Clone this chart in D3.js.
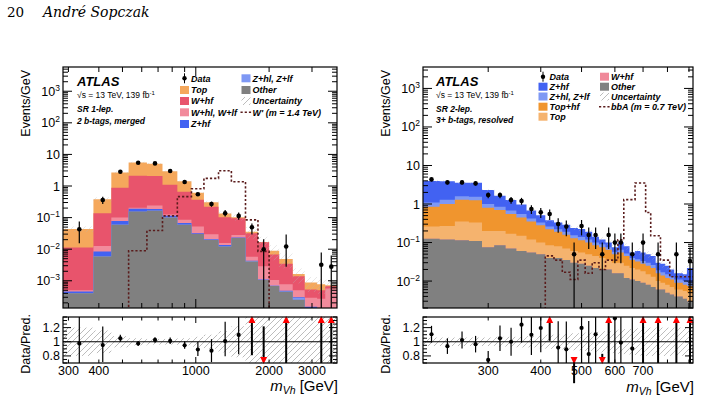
<!DOCTYPE html>
<html><head><meta charset="utf-8">
<script src="https://cdn.jsdelivr.net/npm/d3@7"></script>
<style>
body{margin:0;background:#fff}
svg text{font-family:"Liberation Sans",Arial,Helvetica,sans-serif;fill:#000}
</style></head>
<body><svg id="c" width="704" height="401"></svg>
<script>
// ---------------- LEFT: SR 1-lep, 2 b-tags, merged ----------------
const edgesL=[285,380,450,530,630,730,840,960,1080,1240,1400,1600,1800,2000,2200,2500,2800,3150,3400,3800];
const otherL=[0.0004,0.0059,0.059,0.155,0.166,0.1,0.059,0.030,0.0197,0.0121,0.0225,0.0041,0.00105,0.00068,0.00045,0.00025,0.00012,0.0001,0.0001];
const zhlL=[0.00001,0.0001,0.001,0.002,0.002,0.002,0.001,0.0005,0.0003,0.0002,0.0003,0.0001,0.00002,0.00001,0.00002,0.00004,0.00002,0.00001,0.00001];
const zhfL=[0.00005,0.0025,0.0185,0.033,0.02,0.013,0.007,0.0015,0.0008,0.0012,0.0007,0.0001,0.00003,0.00001,0.00001,0.00001,0.00001,0.00001,0.00001];
const whlL=[0.00004,0.0042,0.0215,0.015,0.052,0.01,0.018,0.02,0.009,0.0022,0.0045,0.0015,0.0018,0.00035,0.0003,0.0002,0.00014,0.00015,0.00045];
const whfL=[0.0108,0.124,0.78,1.9,1.83,0.98,0.575,0.318,0.192,0.087,0.067,0.026,0.0136,0.0058,0.00265,0.0009,0.00024,0.00023,0.0001];
const topL=[0.0325,0.242,1.82,3.48,3.0,1.84,0.75,0.243,0.087,0.033,0.008,0.004,0.0005,0.0021,0.0015,0.00025,0.00035,0.00027,0.00005];
const dataL=[0.0428,0.361,2.83,5.45,5.2,2.98,1.34,0.546,0.27,0.137,0.113,0.0495,0.010,0,0.0121,0,0,0.0032,0.0028];
const dataLoL=[0.0155,0.27,2.7,5.25,5.0,2.85,1.27,0.49,0.22,0.108,0.085,0.029,0,0,0.0028,0,0,0,0];
const dataHiL=[0.0748,0.46,2.97,5.65,5.4,3.12,1.42,0.61,0.32,0.174,0.145,0.065,0.0207,0,0.029,0,0,0.0078,0.0063];
const sigL=[0,0,0,0.0089,0.039,0.113,0.46,0.82,1.75,3.05,1.37,0.085,0.0085,0,0,0,0,0,0];
const uncL=[0.2,0.16,0.08,0.05,0.04,0.04,0.05,0.07,0.1,0.15,0.22,0.4,0.45,0.5,0.5,0.5,0.5,0.5,0.5];
const xTickLabelsL=[300,400,1000,2000,3000];

// ---------------- RIGHT: SR 2-lep, 3+ b-tags, resolved ----------------
const edgesR=[210,230,250,270,290,310,330,350,370,390,410,430,450,470,490,510,530,550,570,590,610,630,650,670,690,710,730,750,770,790,810,830,850,870,890,920];
const otherR=[0.125,0.12,0.115,0.11,0.075,0.085,0.07,0.06,0.055,0.05,0.04,0.04,0.035,0.03,0.028,0.025,0.022,0.02,0.02,0.016,0.016,0.012,0.011,0.01,0.009,0.008,0.007,0.006,0.006,0.005,0.0045,0.004,0.004,0.0035,0.003];
const whfR=new Array(35).fill(0);
const topR=[0.135,0.15,0.235,0.22,0.125,0.115,0.1,0.09,0.065,0.05,0.045,0.04,0.035,0.03,0.027,0.025,0.023,0.02,0.015,0.014,0.014,0.013,0.011,0.01,0.009,0.007,0.006,0.004,0.003,0.003,0.0025,0.002,0.002,0.002,0.002];
const tophfR=[0.59,0.73,0.95,0.92,0.6,0.5,0.38,0.3,0.23,0.18,0.135,0.11,0.09,0.07,0.06,0.05,0.04,0.035,0.03,0.02,0.025,0.02,0.013,0.012,0.01,0.01,0.009,0.006,0.005,0.004,0.004,0.003,0.003,0.0025,0.0025];
const zhlR=[0.25,0.3,0.3,0.3,0.2,0.15,0.13,0.1,0.07,0.05,0.04,0.03,0.03,0.025,0.025,0.02,0.015,0.015,0.01,0.008,0.01,0.007,0.005,0.005,0.005,0.005,0.004,0.003,0.003,0.003,0.002,0.002,0.002,0.002,0.002];
const zhfR=[2.84,2.58,1.95,2.0,1.3,0.78,0.59,0.416,0.256,0.179,0.12,0.11,0.1,0.085,0.085,0.07,0.042,0.03,0.025,0.017,0.036,0.028,0.015,0.023,0.022,0.02,0.019,0.011,0.011,0.01,0.007,0.005,0.005,0.005,0.0125];
const dataR=[4.36,3.64,3.64,3.43,1.71,1.71,1.27,1.2,0.742,0.608,0.551,0.303,0.259,0.0497,0.269,0.157,0.157,0.0497,0.157,0.0998,0.0998,0,0.0497,0,0.0998,0,0,0.0497,0,0,0,0.0497,0,0,0.0333];
const sigR=[0,0,0,0,0,0,0,0,0,0,0.045,0.035,0.017,0.011,0.035,0.016,0.03,0.02,0.035,0.035,0.117,1.3,1.3,3.5,3.5,0.6,0.15,0.15,0.035,0.035,0.013,0.013,0.013,0.013,0.013];
const uncR=[0.06,0.06,0.06,0.06,0.06,0.07,0.07,0.08,0.08,0.09,0.1,0.1,0.11,0.12,0.12,0.13,0.14,0.15,0.15,0.16,0.17,0.18,0.18,0.19,0.2,0.2,0.2,0.2,0.2,0.2,0.2,0.2,0.2,0.2,0.2];
const xTickLabelsR=[300,400,500,600,700];

const C={top:"#f5a85c",whf:"#e8546c",whl:"#f28b9c",zhf:"#4262f2",zhl:"#7e98f4",other:"#808080",
         tophf:"#f0952e",top2:"#f5b36e",whf2:"#f0899a",sig:"#5a1c1c"};

const svg=d3.select("#c");
const defs=svg.append("defs");
const pat=defs.append("pattern").attr("id","hatch").attr("patternUnits","userSpaceOnUse").attr("width",6).attr("height",6);
pat.append("path").attr("d","M-1,1 l2,-2 M0,6 l6,-6 M5,7 l2,-2").attr("stroke","#b4b4b4").attr("stroke-width",0.9);

// header
svg.append("text").attr("x",7).attr("y",17).style("font-family","'DejaVu Serif',serif").style("font-size","13.5px").text("20");
svg.append("text").attr("x",43).attr("y",17).style("font-family","'DejaVu Serif',serif").style("font-size","14px").style("font-style","italic").text("André Sopczak");

function sup(t,base,s,fs){ t.append("tspan").text(base); t.append("tspan").attr("dy",-5).style("font-size",fs+"px").text(s); }

function panel(o){
  const n=o.edges.length-1;
  const x=d3.scaleLog().domain([o.edges[0],o.edges[n]]).range([o.x0,o.x1]);
  const y=d3.scaleLog().domain(o.yDomain).range([o.yb,o.yt]);
  const yr=d3.scaleLinear().domain([0.7,1.35]).range([o.rb,o.rt]);
  const Y=v=>v>0?y(v):o.yb+30;
  const g=svg.append("g");
  const cid="clipm"+o.id, rid="clipr"+o.id;
  defs.append("clipPath").attr("id",cid).append("rect").attr("x",o.x0).attr("y",o.yt).attr("width",o.x1-o.x0).attr("height",o.yb-o.yt);
  defs.append("clipPath").attr("id",rid).append("rect").attr("x",o.x0).attr("y",o.rt).attr("width",o.x1-o.x0).attr("height",o.rb-o.rt);
  const gm=g.append("g").attr("clip-path",`url(#${cid})`);
  const cums=[]; let cum=new Array(n).fill(0);
  o.comps.forEach(c=>{cum=cum.map((v,i)=>v+c.values[i]); cums.push({c,top:cum.slice()});});
  const total=cum;
  for(let k=cums.length-1;k>=0;k--){
    const t=cums[k].top; const pts=[];
    for(let i=0;i<n;i++){pts.push([x(o.edges[i]),Y(t[i])],[x(o.edges[i+1]),Y(t[i])]);}
    pts.push([o.x1,o.yb+30],[o.x0,o.yb+30]);
    gm.append("path").attr("d",d3.line()(pts)+"Z").attr("fill",cums[k].c.color);
  }
  for(let i=0;i<n;i++){
    gm.append("rect").attr("x",x(o.edges[i])).attr("width",x(o.edges[i+1])-x(o.edges[i]))
      .attr("y",Y(total[i]*(1+o.unc[i]))).attr("height",Math.max(0,Y(total[i]*Math.max(1-o.unc[i],1e-9))-Y(total[i]*(1+o.unc[i]))))
      .attr("fill","url(#hatch)").attr("opacity",0.35);
  }
  const sp=[];
  for(let i=0;i<n;i++){sp.push([x(o.edges[i]),Y(o.sig[i])],[x(o.edges[i+1]),Y(o.sig[i])]);}
  gm.append("path").attr("d",d3.line()(sp)).attr("fill","none").attr("stroke",C.sig).attr("stroke-width",1.6).attr("stroke-dasharray","2.2,2");
  const cen=i=>x((o.edges[i]+o.edges[i+1])/2);
  for(let i=0;i<n;i++){
    const d=o.data[i]; if(!(d>0)) continue;
    const lo=o.dlo[i], hi=o.dhi[i];
    gm.append("line").attr("x1",cen(i)).attr("x2",cen(i)).attr("y1",Y(hi)).attr("y2",Y(lo)).attr("stroke","#000").attr("stroke-width",1.2);
    gm.append("circle").attr("cx",cen(i)).attr("cy",y(d)).attr("r",2.3).attr("fill","#000");
  }
  const gr=g.append("g").attr("clip-path",`url(#${rid})`);
  for(let i=0;i<n;i++){
    gr.append("rect").attr("x",x(o.edges[i])).attr("width",x(o.edges[i+1])-x(o.edges[i]))
      .attr("y",yr(1+o.unc[i])).attr("height",yr(1-o.unc[i])-yr(1+o.unc[i])).attr("fill","url(#hatch)");
  }
  gr.append("line").attr("x1",o.x0).attr("x2",o.x1).attr("y1",yr(1)).attr("y2",yr(1)).attr("stroke","#000").attr("stroke-width",1.2);
  const ar=g.append("g");
  for(let i=0;i<n;i++){
    const d=o.data[i]; if(!(d>0)) continue;
    const r=d/total[i], rlo=o.dlo[i]/total[i], rhi=o.dhi[i]/total[i];
    const cx=cen(i);
    if(r>1.35){
      ar.append("line").attr("x1",cx).attr("x2",cx).attr("y1",o.rt+4).attr("y2",Math.min(o.rb,yr(Math.max(rlo,0.7)))).attr("stroke","#000").attr("stroke-width",2);
      ar.append("path").attr("d",`M${cx-3.5},${o.rt+6}L${cx+3.5},${o.rt+6}L${cx},${o.rt-1}Z`).attr("fill","#f00");
    } else if(r<0.7){
      ar.append("line").attr("x1",cx).attr("x2",cx).attr("y1",Math.max(o.rt,yr(Math.min(rhi,1.35)))).attr("y2",o.rb-4).attr("stroke","#000").attr("stroke-width",2);
      ar.append("path").attr("d",`M${cx-3.5},${o.rb-6}L${cx+3.5},${o.rb-6}L${cx},${o.rb+1}Z`).attr("fill","#f00");
    } else {
      gr.append("line").attr("x1",cx).attr("x2",cx).attr("y1",yr(Math.min(rhi,2))).attr("y2",yr(Math.max(rlo,0))).attr("stroke","#000").attr("stroke-width",1.2);
      gr.append("circle").attr("cx",cx).attr("cy",yr(r)).attr("r",2.1).attr("fill","#000");
    }
  }
  [[o.yt,o.yb],[o.rt,o.rb]].forEach(([a,b])=>g.append("rect").attr("x",o.x0).attr("y",a).attr("width",o.x1-o.x0).attr("height",b-a).attr("fill","none").attr("stroke","#000").attr("stroke-width",1.2));
  const tk=(x1,y1,x2,y2)=>g.append("line").attr("x1",x1).attr("y1",y1).attr("x2",x2).attr("y2",y2).attr("stroke","#000").attr("stroke-width",1);
  const l0=Math.floor(Math.log10(o.yDomain[0])), l1=Math.ceil(Math.log10(o.yDomain[1]));
  for(let d=l0;d<=l1;d++){for(let k=1;k<=9;k++){const v=k*Math.pow(10,d); if(v<o.yDomain[0]||v>o.yDomain[1])continue; const L=k===1?9:5; const yy=y(v); tk(o.x0,yy,o.x0+L,yy); tk(o.x1,yy,o.x1-L,yy);}}
  o.yLabels.forEach(([v,base,s])=>{const t=g.append("text").attr("x",o.x0-3).attr("y",y(v)+4.5).attr("text-anchor","end").style("font-size","12.5px"); if(s){sup(t,base,s,8.5);} else t.text(base);});
  for(let v=0.7;v<=1.351;v+=0.05){const vv=Math.round(v*100)/100; const maj=[0.8,1,1.2].includes(vv); const L=maj?8:4; tk(o.x0,yr(vv),o.x0+L,yr(vv)); tk(o.x1,yr(vv),o.x1-L,yr(vv));}
  [[1.2,"1.2"],[1,"1"],[0.8,"0.8"]].forEach(([v,s])=>g.append("text").attr("x",o.x0-3).attr("y",yr(v)+4.5).attr("text-anchor","end").style("font-size","12.5px").text(s));
  const xd=x.domain();
  for(let d=2;d<=3;d++){for(let k=1;k<=9;k++){const v=k*Math.pow(10,d); if(v<xd[0]||v>xd[1])continue; const maj=(k===1); const xx=x(v);
    tk(xx,o.yb,xx,o.yb-(maj?9:5)); tk(xx,o.yt,xx,o.yt+(maj?9:5));
    tk(xx,o.rb,xx,o.rb-(maj?6:3.5)); tk(xx,o.rt,xx,o.rt+(maj?6:3.5));}}
  o.xLabels.forEach(v=>g.append("text").attr("x",x(v)).attr("y",o.rb+12).attr("text-anchor","middle").style("font-size","12.5px").text(v));
  g.append("text").attr("transform",`translate(${o.ytx},70) rotate(-90)`).attr("text-anchor","end").style("font-size","12.5px").text("Events/GeV");
  g.append("text").attr("transform",`translate(${o.ytx},314) rotate(-90)`).attr("text-anchor","end").style("font-size","12.5px").text("Data/Pred.");
  const xt=g.append("text").attr("x",o.x1+1).attr("y",o.xty).attr("text-anchor","end").style("font-size","15px");
  xt.append("tspan").style("font-style","italic").text("m");
  xt.append("tspan").attr("dy",3).style("font-size","10.5px").style("font-style","italic").text("Vh");
  xt.append("tspan").attr("dy",-3).text(" [GeV]");
  const lx=o.lab.x;
  g.append("text").attr("x",lx).attr("y",o.lab.y[0]).style("font-size","13px").style("font-weight","bold").style("font-style","italic").text("ATLAS");
  const t2=g.append("text").attr("x",lx).attr("y",o.lab.y[1]).style("font-size","8.5px");
  t2.append("tspan").text("√s = 13 TeV, 139 fb"); t2.append("tspan").attr("dy",-3).style("font-size","6px").text("-1");
  g.append("text").attr("x",lx).attr("y",o.lab.y[2]).style("font-size","8.5px").style("font-weight","bold").style("font-style","italic").text(o.lab.t1);
  g.append("text").attr("x",lx).attr("y",o.lab.y[3]).style("font-size","8.5px").style("font-weight","bold").style("font-style","italic").text(o.lab.t2);
  o.legend.forEach(e=>{
    const cy=e.y;
    if(e.type==="data"){ tk(e.bx+4.5,cy-5,e.bx+4.5,cy+5); g.append("circle").attr("cx",e.bx+4.5).attr("cy",cy).attr("r",2.2).attr("fill","#000"); }
    else if(e.type==="box"){ g.append("rect").attr("x",e.bx).attr("y",cy-4).attr("width",9).attr("height",8).attr("fill",e.color); }
    else if(e.type==="hatch"){ g.append("rect").attr("x",e.bx).attr("y",cy-4).attr("width",9).attr("height",8).attr("fill","url(#hatch)"); }
    else if(e.type==="line"){ g.append("line").attr("x1",e.bx-1).attr("x2",e.bx+10).attr("y1",cy).attr("y2",cy).attr("stroke",C.sig).attr("stroke-width",1.6).attr("stroke-dasharray","2.2,2"); }
    g.append("text").attr("x",e.bx+11).attr("y",cy+3.3).style("font-size","9px").style("font-weight","bold").style("font-style","italic").text(e.label);
  });
}

const rowsL=[78.3,90,101,112.3,124];
panel({id:"L",x0:63,x1:337,yt:67,yb:308,rt:317,rb:363,yDomain:[1.375e-4,5850],edges:edgesL,
  comps:[{values:otherL,color:C.other},{values:zhlL,color:C.zhl},{values:zhfL,color:C.zhf},{values:whlL,color:C.whl},{values:whfL,color:C.whf},{values:topL,color:C.top}],
  data:dataL,dlo:dataLoL,dhi:dataHiL,sig:sigL,unc:uncL,xLabels:xTickLabelsL,ytx:30,xty:391,
  yLabels:[[1000,"10","3"],[100,"10","2"],[10,"10",null],[1,"1",null],[0.1,"10","−1"],[0.01,"10","−2"],[0.001,"10","−3"]],
  lab:{x:77,y:[86,97.5,111.5,124],t1:"SR 1-lep.",t2:"2 b-tags, merged"},
  legend:[{type:"data",bx:180,y:rowsL[0],label:"Data"},{type:"box",bx:180,y:rowsL[1],color:C.top,label:"Top"},
    {type:"box",bx:180,y:rowsL[2],color:C.whf,label:"W+hf"},{type:"box",bx:180,y:rowsL[3],color:C.whl,label:"W+hl, W+lf"},
    {type:"box",bx:180,y:rowsL[4],color:C.zhf,label:"Z+hf"},{type:"box",bx:241.5,y:rowsL[0],color:C.zhl,label:"Z+hl, Z+lf"},
    {type:"box",bx:241.5,y:rowsL[1],color:C.other,label:"Other"},{type:"hatch",bx:241.5,y:rowsL[2],label:"Uncertainty"},
    {type:"line",bx:241.5,y:rowsL[3],label:"W' (m = 1.4 TeV)"}]
});
const dloR=dataR.map(v=>{const N=v*20; return N>0?Math.max(N-Math.sqrt(N),0)/20:0;});
const dhiR=dataR.map(v=>{const N=v*20; return (N+Math.sqrt(N))/20;});
const rowsR=[76.7,86.7,96.5,106.7,116.7];
panel({id:"R",x0:423,x1:693,yt:67,yb:308,rt:317,rb:363,yDomain:[0.002,3600],edges:edgesR,
  comps:[{values:otherR,color:C.other},{values:whfR,color:C.whf2},{values:topR,color:C.top2},{values:tophfR,color:C.tophf},{values:zhlR,color:C.zhl},{values:zhfR,color:C.zhf}],
  data:dataR,dlo:dloR,dhi:dhiR,sig:sigR,unc:uncR,xLabels:xTickLabelsR,ytx:390,xty:392,
  yLabels:[[1000,"10","3"],[100,"10","2"],[10,"10",null],[1,"1",null],[0.1,"10","−1"],[0.01,"10","−2"]],
  lab:{x:436,y:[86,98,112,123],t1:"SR 2-lep.",t2:"3+ b-tags, resolved"},
  legend:[{type:"data",bx:538.5,y:rowsR[0],label:"Data"},{type:"box",bx:538.5,y:rowsR[1],color:C.zhf,label:"Z+hf"},
    {type:"box",bx:538.5,y:rowsR[2],color:C.zhl,label:"Z+hl, Z+lf"},{type:"box",bx:538.5,y:rowsR[3],color:C.tophf,label:"Top+hf"},
    {type:"box",bx:538.5,y:rowsR[4],color:C.top2,label:"Top"},{type:"box",bx:600,y:rowsR[0],color:C.whf2,label:"W+hf"},
    {type:"box",bx:600,y:rowsR[1],color:C.other,label:"Other"},{type:"hatch",bx:600,y:rowsR[2],label:"Uncertainty"},
    {type:"line",bx:600,y:rowsR[3],label:"bbA (m = 0.7 TeV)"}]
});
</script></body></html>
